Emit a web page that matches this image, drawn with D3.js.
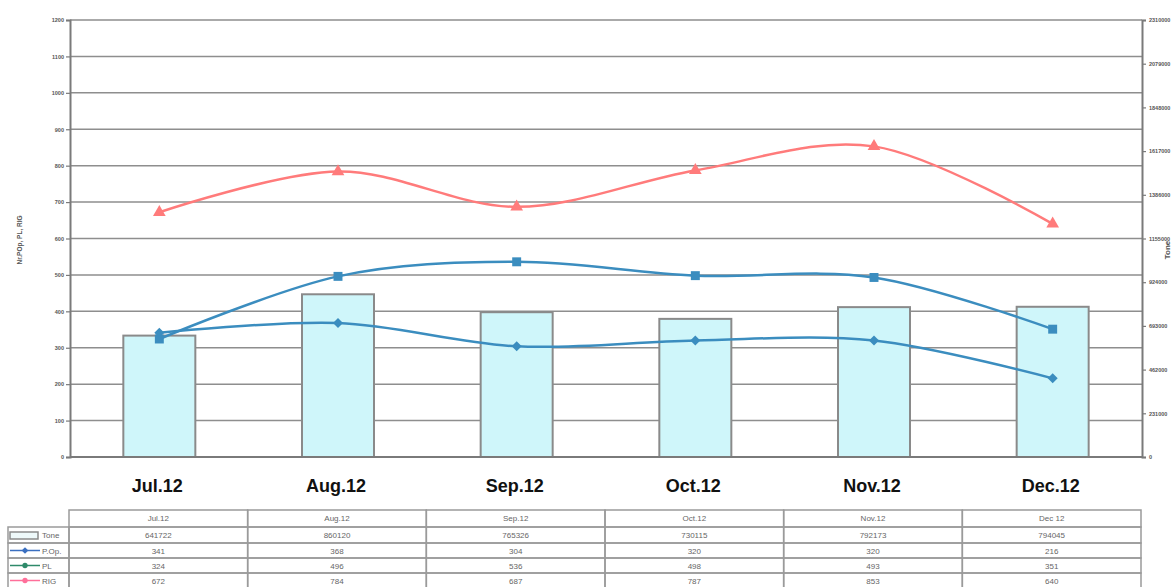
<!DOCTYPE html>
<style>
    body{ margin:0; background:#fff; }
    text{ font-family: "Liberation Sans", Arial, sans-serif; }
</style>
<div class="chart"></div>
<script src="https://d3js.org/d3.v7.min.js"></script>
<script>

var months = ["Jul.12", "Aug.12", "Sep.12", "Oct.12", "Nov.12", "Dec.12"];
var tableHeads = ["Jul.12", "Aug.12", "Sep.12", "Oct.12", "Nov.12", "Dec 12"];
var tone = [641722, 860120, 765326, 730115, 792173, 794045];
var pop = [341, 368, 304, 320, 320, 216];
var pl = [324, 496, 536, 498, 493, 351];
var rig = [672, 784, 687, 787, 853, 640];
var leftTicks = d3.range(0, 1201, 100);
var rightTicks = d3.range(0, 2310001, 231000);

var W = 1172, H = 587,
    plotL = 70, plotR = 1142, plotT = 20, plotB = 457;

var svg = d3.select(".chart").append("svg").attr("width", W).attr("height", H);
svg.append("rect").attr("width", W).attr("height", H).attr("fill", "#fff");

var x = d3.scaleBand().domain(months).range([plotL, plotR]);
var yL = d3.scaleLinear().domain([0, 1200]).range([plotB, plotT]);
var yR = d3.scaleLinear().domain([0, 2310000]).range([plotB, plotT]);
var cx = function(i) { return x(months[i]) + x.bandwidth() / 2; };

// grid
svg.append("g").selectAll("line")
    .data(leftTicks)
  .enter().append("line")
    .attr("x1", plotL).attr("x2", plotR)
    .attr("y1", function(d) { return yL(d); })
    .attr("y2", function(d) { return yL(d); })
    .attr("stroke", "#8e8e8e")
    .attr("stroke-width", 1.5);

// bars (Tone, right axis)
svg.append("g").selectAll("rect")
    .data(tone)
  .enter().append("rect")
    .attr("x", function(d, i) { return cx(i) - 36; })
    .attr("width", 72)
    .attr("y", function(d) { return yR(d); })
    .attr("height", function(d) { return plotB - yR(d); })
    .attr("fill", "#cff6fa")
    .attr("stroke", "#8a8a8a")
    .attr("stroke-width", 2);

// axes
var axL = svg.append("g")
    .attr("transform", "translate(" + plotL + ",0)")
    .call(d3.axisLeft(yL).tickValues(leftTicks).tickSize(4).tickPadding(2).tickFormat(d3.format("d")));
var axR = svg.append("g")
    .attr("transform", "translate(" + plotR + ",0)")
    .call(d3.axisRight(yR).tickValues(rightTicks).tickSize(4).tickPadding(3).tickFormat(d3.format("d")));
[axL, axR].forEach(function(a) {
    a.select(".domain").attr("stroke", "#7a7a7a").attr("stroke-width", 2);
    a.selectAll(".tick line").attr("stroke", "#7a7a7a").attr("stroke-width", 1.2);
    a.selectAll(".tick text")
        .attr("fill", "#555")
        .attr("font-size", 5.5)
        .attr("font-weight", "bold")
        .style("font-family", "'Liberation Sans', Arial, sans-serif");
});
svg.append("line")
    .attr("x1", plotL).attr("x2", plotR)
    .attr("y1", plotB).attr("y2", plotB)
    .attr("stroke", "#7a7a7a").attr("stroke-width", 2);

// axis titles
svg.append("text")
    .attr("transform", "translate(22,240) rotate(-90)")
    .attr("text-anchor", "middle")
    .attr("font-size", 6.5)
    .attr("font-weight", "bold")
    .attr("fill", "#555")
    .text("Nr.POp, PL, RIG");
svg.append("text")
    .attr("transform", "translate(1170,250) rotate(-90)")
    .attr("text-anchor", "middle")
    .attr("font-size", 8)
    .attr("font-weight", "bold")
    .attr("fill", "#555")
    .text("Tone");

// month labels
svg.append("g").selectAll("text")
    .data(months)
  .enter().append("text")
    .attr("x", function(d, i) { return cx(i) - 2; })
    .attr("y", 492)
    .attr("text-anchor", "middle")
    .attr("font-size", 18)
    .attr("font-weight", "bold")
    .attr("fill", "#111")
    .text(function(d) { return d; });

// lines
var blue = "#3b8dbf", salmon = "#ff7b7b";
var line = d3.line()
    .x(function(d, i) { return cx(i); })
    .y(function(d) { return yL(d); })
    .curve(d3.curveCardinal.tension(0));

var series = [
    {values: rig, color: salmon, symbol: d3.symbolTriangle, size: 70, rot: 0},
    {values: pl, color: blue, symbol: d3.symbolSquare, size: 80, rot: 0},
    {values: pop, color: blue, symbol: d3.symbolSquare, size: 50, rot: 45}
];
series.forEach(function(s) {
    svg.append("path")
        .datum(s.values)
        .attr("fill", "none")
        .attr("stroke", s.color)
        .attr("stroke-width", 2.5)
        .attr("stroke-linejoin", "round")
        .attr("d", line);
    svg.append("g").selectAll("path")
        .data(s.values)
      .enter().append("path")
        .attr("transform", function(d, i) { return "translate(" + cx(i) + "," + yL(d) + ") rotate(" + s.rot + ")"; })
        .attr("d", d3.symbol().type(s.symbol).size(s.size))
        .attr("fill", s.color);
});

// data table
var rowY = [510, 527, 543, 558, 573, 588];
var tbl = svg.append("g");
var gridColor = "#9a9a9a";
var rows = [
    {name: "Tone", values: tone, color: "#8a8a8a", key: "box"},
    {name: "P.Op.", values: pop, color: "#3a6fc0", key: d3.symbolSquare, rot: 45},
    {name: "PL", values: pl, color: "#2e8a6a", key: d3.symbolCircle, rot: 0},
    {name: "RIG", values: rig, color: "#ff6f9a", key: d3.symbolCircle, rot: 0}
];

// header cells
tbl.append("g").selectAll("rect")
    .data(tableHeads)
  .enter().append("rect")
    .attr("x", function(d, i) { return x(months[i]) - 1; })
    .attr("y", rowY[0])
    .attr("width", x.bandwidth())
    .attr("height", rowY[1] - rowY[0])
    .attr("fill", "none").attr("stroke", gridColor).attr("stroke-width", 1.5);
tbl.append("g").selectAll("text")
    .data(tableHeads)
  .enter().append("text")
    .attr("x", function(d, i) { return cx(i) - 1; })
    .attr("y", rowY[0] + 11)
    .attr("text-anchor", "middle")
    .attr("font-size", 8)
    .attr("fill", "#666")
    .text(function(d) { return d; });

rows.forEach(function(r, ri) {
    var y0 = rowY[ri + 1], y1 = rowY[ri + 2];
    // label cell
    tbl.append("rect")
        .attr("x", 8).attr("y", y0)
        .attr("width", plotL - 9).attr("height", y1 - y0)
        .attr("fill", "none").attr("stroke", gridColor).attr("stroke-width", 1.5);
    var my = (y0 + y1) / 2;
    if (r.key === "box") {
        tbl.append("rect")
            .attr("x", 10).attr("y", my - 3).attr("width", 28).attr("height", 7)
            .attr("fill", "#eef9fa").attr("stroke", r.color).attr("stroke-width", 1.5);
    } else {
        tbl.append("line")
            .attr("x1", 10).attr("x2", 40).attr("y1", my).attr("y2", my)
            .attr("stroke", r.color).attr("stroke-width", 1.5);
        tbl.append("path")
            .attr("transform", "translate(25," + my + ") rotate(" + r.rot + ")")
            .attr("d", d3.symbol().type(r.key).size(22))
            .attr("fill", r.color);
    }
    tbl.append("text")
        .attr("x", 42).attr("y", my + 3)
        .attr("font-size", 8).attr("fill", "#666")
        .text(r.name);
    // value cells
    tbl.append("g").selectAll("rect")
        .data(r.values)
      .enter().append("rect")
        .attr("x", function(d, i) { return x(months[i]) - 1; })
        .attr("y", y0)
        .attr("width", x.bandwidth())
        .attr("height", y1 - y0)
        .attr("fill", "none").attr("stroke", gridColor).attr("stroke-width", 1.5);
    tbl.append("g").selectAll("text")
        .data(r.values)
      .enter().append("text")
        .attr("x", function(d, i) { return cx(i) - 1; })
        .attr("y", my + 3)
        .attr("text-anchor", "middle")
        .attr("font-size", 8)
        .attr("fill", "#666")
        .text(function(d) { return d; });
});

</script>
